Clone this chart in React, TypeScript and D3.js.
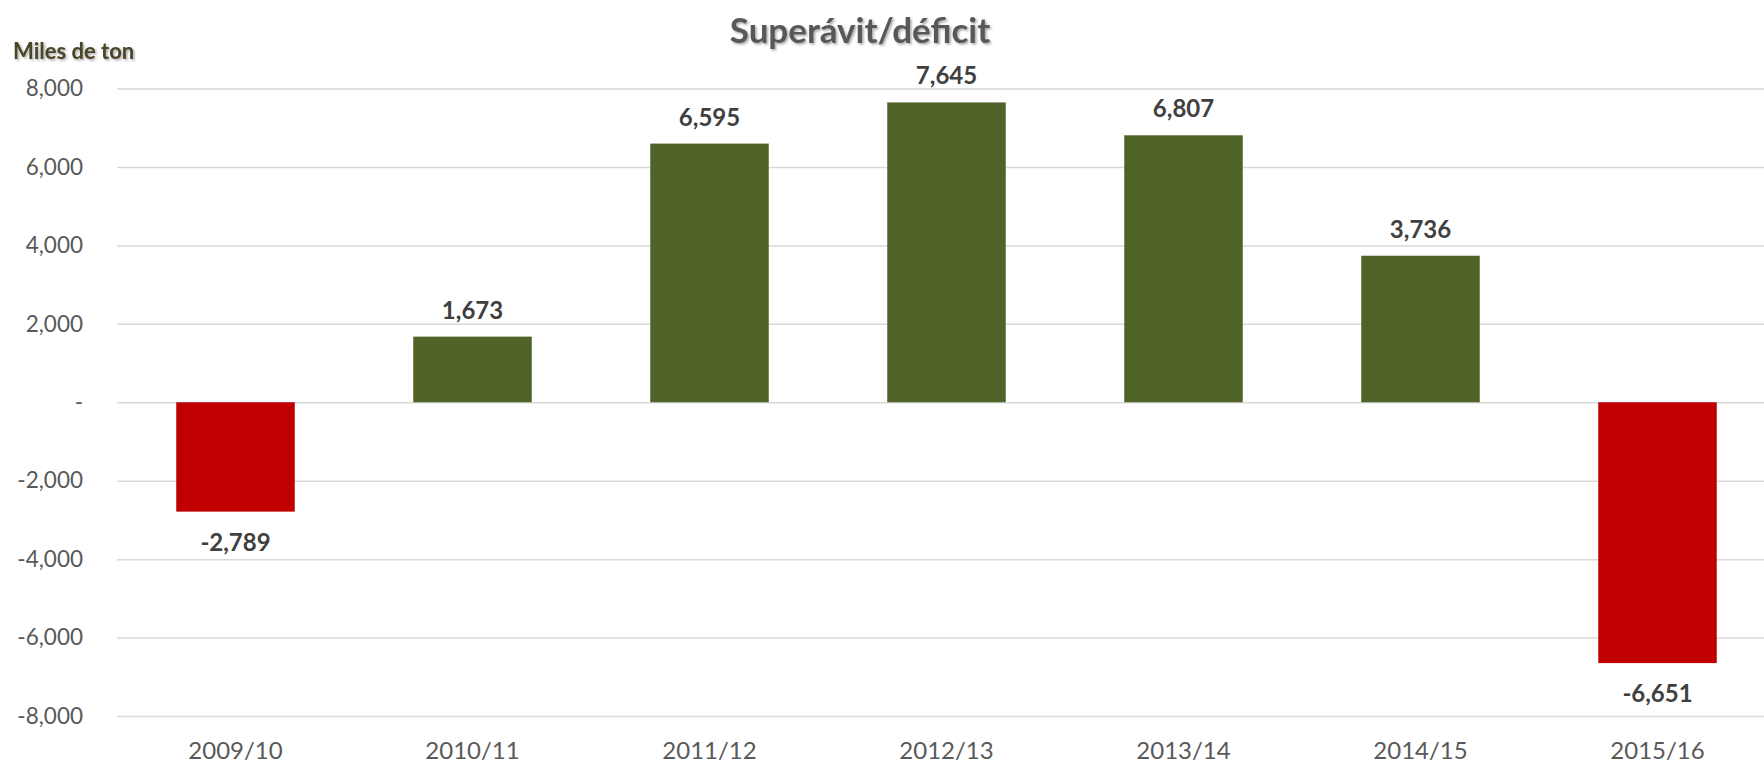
import { useEffect, useRef } from 'react';
import * as d3 from 'd3';

// Marketing years and the surplus / deficit (thousand tons)
const seasons = ['2009/10', '2010/11', '2011/12', '2012/13', '2013/14', '2014/15', '2015/16'];
const balance = [-2789, 1673, 6595, 7645, 6807, 3736, -6651];
const yTicks = [-8000, -6000, -4000, -2000, 0, 2000, 4000, 6000, 8000];

const chartTitle = 'Superávit/déficit';
const unitLabel = 'Miles de ton';

// Excel-like number format: plain hyphen for negatives
const locale = d3.formatLocale({ decimal: '.', thousands: ',', grouping: [3], currency: ['$', ''], minus: '-' });
const fmt = locale.format(',');

export default function App() {
  const width = 1764;
  const height = 763;
  const marginLeft = 117;
  const plotRight = 1776;
  const yTop = 88.5;
  const yBottom = 716;
  const font = 'Lato, "Open Sans", sans-serif';

  const x = d3.scaleBand<string>()
    .domain(seasons)
    .range([marginLeft, plotRight])
    .paddingInner(0.5)
    .paddingOuter(0.25);

  const y = d3.scaleLinear()
    .domain([-8000, 8000])
    .range([yBottom, yTop]);

  const tickFmt = (v: number) => (v === 0 ? '-' : fmt(v));

  const gy = useRef<SVGGElement>(null);

  // y axis: gridlines + labels drawn by d3
  useEffect(() => {
    if (gy.current) {
      const g = d3.select(gy.current);
      g.call(
        d3.axisLeft(y)
          .tickValues(yTicks)
          .tickSize(-(plotRight - marginLeft))
          .tickPadding(34)
          .tickFormat(d => tickFmt(d as number))
      );
      g.select('.domain').remove();
      g.selectAll('.tick line').attr('stroke', '#d9d9d9').attr('stroke-width', 1.5);
      g.selectAll('.tick text')
        .attr('fill', '#595959')
        .attr('font-size', '22.5px')
        .attr('font-family', font);
    }
  }, [gy, y]);

  return (
    <svg width={width} height={height} style={{ display: 'block', position: 'absolute', left: 0, top: 0 }}>
      <defs>
        <filter id="shadow" x="-10%" y="-30%" width="120%" height="160%">
          <feDropShadow dx="1.5" dy="1.5" stdDeviation="1" floodColor="#000" floodOpacity="0.35" />
        </filter>
      </defs>
      <rect width={width} height={height} fill="#fff" />
      <g ref={gy} transform={`translate(${marginLeft},0)`} />

      {seasons.map((s, i) => {
        const v = balance[i];
        const y0 = y(0);
        const yv = y(v);
        return (
          <rect
            key={s}
            x={x(s)}
            y={Math.min(y0, yv)}
            width={x.bandwidth()}
            height={Math.abs(yv - y0)}
            fill={v < 0 ? '#C00000' : '#4F6228'}
          />
        );
      })}

      {seasons.map((s, i) => {
        const v = balance[i];
        const cx = (x(s) ?? 0) + x.bandwidth() / 2;
        return (
          <text
            key={'l' + s}
            x={cx}
            y={v < 0 ? y(v) + 39 : y(v) - 18}
            textAnchor="middle"
            fontFamily={font}
            fontWeight="bold"
            fontSize="24px"
            fill="#404040"
          >
            {fmt(v)}
          </text>
        );
      })}

      {seasons.map(s => (
        <text
          key={'c' + s}
          x={(x(s) ?? 0) + x.bandwidth() / 2}
          y={759}
          textAnchor="middle"
          fontFamily={font}
          fontSize="24px"
          fill="#595959"
        >
          {s}
        </text>
      ))}

      <text
        x={860}
        y={43}
        textAnchor="middle"
        fontFamily={font}
        fontWeight="bold"
        fontSize="35px"
        fill="#595959"
        filter="url(#shadow)"
      >
        {chartTitle}
      </text>
      <text
        x={13}
        y={59}
        fontFamily={font}
        fontWeight="bold"
        fontSize="22px"
        fill="#4a4428"
        filter="url(#shadow)"
      >
        {unitLabel}
      </text>
    </svg>
  );
}
